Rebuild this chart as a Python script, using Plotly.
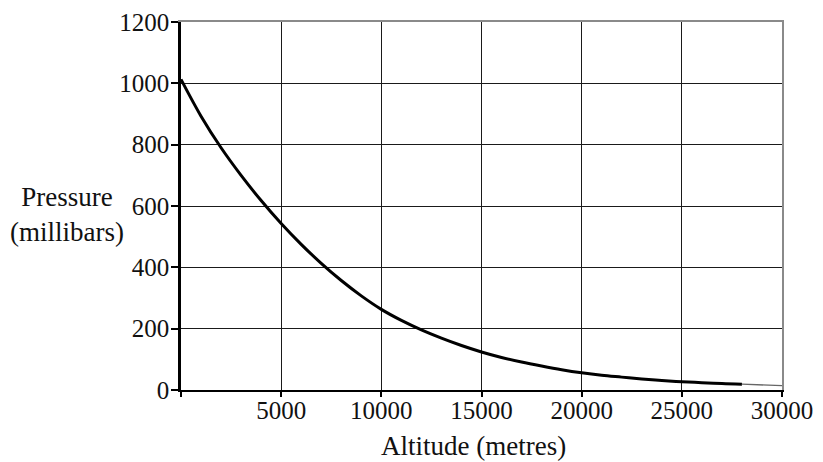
import plotly.graph_objects as go

altitude = [0, 1000, 2000, 3000, 4000, 5000, 6000, 7000, 8000, 9000, 10000,
            11000, 12000, 13000, 14000, 15000, 16000, 17000, 18000, 19000, 20000,
            21000, 22000, 23000, 24000, 25000, 26000, 27000, 28000]
pressure = [1013, 893, 790, 700, 618, 543, 475, 413, 357, 307, 263,
            227, 196, 169, 145, 124, 106, 91, 78, 66, 56,
            48, 42, 36, 31, 27, 24, 21, 19]
altitude_tail = [28000, 30000]
pressure_tail = [19, 14]

x_ticks = [0, 5000, 10000, 15000, 20000, 25000, 30000]
x_labels = ["", "5000", "10000", "15000", "20000", "25000", "30000"]
x_grid = [5000, 10000, 15000, 20000, 25000]
y_ticks = [0, 200, 400, 600, 800, 1000, 1200]
y_labels = ["0", "200", "400", "600", "800", "1000", "1200"]
y_grid = [200, 400, 600, 800, 1000]

fig = go.Figure()
fig.add_trace(go.Scatter(x=altitude_tail, y=pressure_tail, mode="lines",
                         xaxis="x2", yaxis="y2",
                         line=dict(color="#666", width=1.3),
                         showlegend=False, hoverinfo="skip"))
fig.add_trace(go.Scatter(x=altitude, y=pressure, mode="lines",
                         line=dict(color="black", width=3, shape="spline"),
                         showlegend=False, hoverinfo="skip"))

family = "Times New Roman, Liberation Serif, Tinos, DejaVu Serif, serif"
tick_font = dict(family=family, size=25, color="#111")
title_font = dict(family=family, size=27, color="#111")

# the saved page has an 8px default body margin; sizes compensate for it
fig.update_layout(
    width=815, height=454,
    margin=dict(l=173, r=41, t=14, b=72),
    paper_bgcolor="white", plot_bgcolor="white",
    font=tick_font,
    xaxis=dict(range=[0, 30000], tickvals=x_ticks, ticktext=x_labels,
               showgrid=False, automargin=False,
               minor=dict(tickvals=x_grid, showgrid=True, gridcolor="#1a1a1a",
                          gridwidth=1.4, ticks=""),
               showline=True, linecolor="black", linewidth=2,
               ticks="outside", ticklen=5, tickcolor="black", tickwidth=1.5,
               ticklabelstandoff=-8, ticklabeloverflow="allow",
               zeroline=False, tickfont=tick_font),
    yaxis=dict(range=[0, 1200], tickvals=y_ticks, ticktext=y_labels,
               showgrid=False, automargin=False,
               minor=dict(tickvals=y_grid, showgrid=True, gridcolor="#1a1a1a",
                          gridwidth=1.4, ticks=""),
               showline=True, linecolor="black", linewidth=2.5,
               ticks="outside", ticklen=7, tickcolor="black", tickwidth=1.5,
               ticklabelstandoff=-3, ticklabeloverflow="allow",
               zeroline=False, tickfont=tick_font),
    xaxis2=dict(range=[0, 30000], overlaying="x", side="top",
                showline=True, linecolor="#8a8a8a", linewidth=1.5,
                showgrid=False, zeroline=False, showticklabels=False,
                ticks="", automargin=False),
    yaxis2=dict(range=[0, 1200], overlaying="y", side="right",
                showline=True, linecolor="#8a8a8a", linewidth=1.5,
                showgrid=False, zeroline=False, showticklabels=False,
                ticks="", automargin=False),
    annotations=[
        dict(text="Pressure<br>(millibars)", xref="paper", yref="paper",
             x=-0.19, y=0.478, xanchor="center", yanchor="middle",
             showarrow=False, font=title_font, align="center"),
        dict(text="Altitude (metres)", xref="paper", yref="paper",
             x=0.4875, y=-0.152, xanchor="center", yanchor="middle",
             showarrow=False, font=title_font),
    ],
)

fig.write_html("out.html")
